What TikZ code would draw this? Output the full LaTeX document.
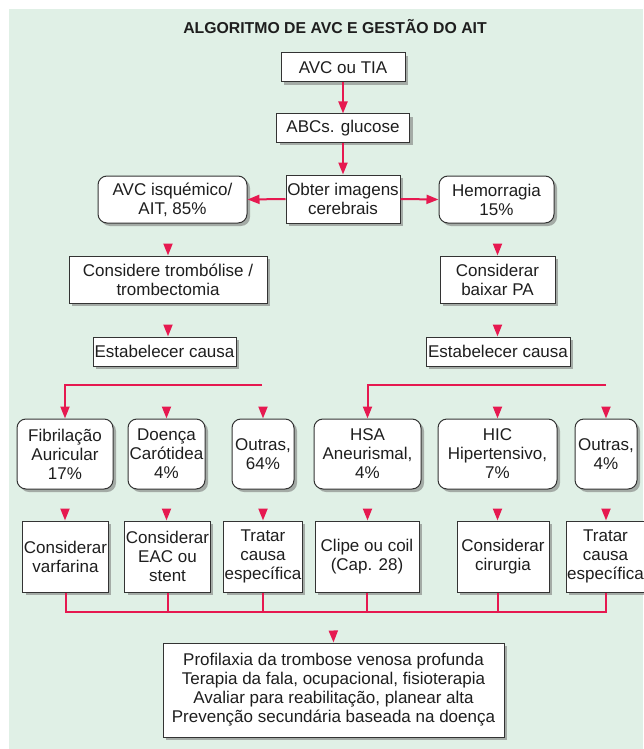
\documentclass[tikz,border=0pt]{standalone}
\usepackage{fontspec}
\setmainfont{Liberation Sans}
\usepackage{tikz}
\usetikzlibrary{arrows.meta, shadows, calc}
\definecolor{mint}{RGB}{224,240,230}
\definecolor{flowred}{RGB}{230,25,80}
\definecolor{inktext}{RGB}{30,30,30}

\begin{document}
\begin{tikzpicture}[x=1pt, y=-1pt,
  box/.style={draw=black!80, fill=white, line width=1pt, text=inktext,
    font=\fontsize{17}{19}\selectfont, align=center, inner sep=1pt,
    drop shadow={shadow xshift=3pt, shadow yshift=-3pt, fill=black!55, opacity=0.55}},
  rbox/.style={box, rounded corners=9pt},
  link/.style={draw=flowred, line width=2pt, -{Triangle[length=12pt,width=9pt]}},
  tiponly/.style={link, shorten <=#1},
  wire/.style={draw=flowred, line width=2pt}
]

  % Page and background
  \useasboundingbox (0,0) rectangle (643,749);
  \fill[mint] (9,9) rectangle (643,749);
  \node[font=\bfseries\fontsize{15.8}{18}\selectfont, text=inktext] (title) at (335,27) {ALGORITMO DE AVC E GESTÃO DO AIT};

  % Top of the chart
  \node[box, minimum width=124pt, minimum height=29pt] (tia) at (343,67.5) {AVC ou TIA};
  \node[box, minimum width=133pt, minimum height=28pt] (abc) at (343,128) {ABCs. glucose};
  \node[box, minimum width=114pt, minimum height=48pt] (img) at (343,199) {Obter imagens\\cerebrais};
  \node[rbox, minimum width=149pt, minimum height=47pt] (isq) at (172.5,199.5) {AVC isquémico/\\AIT, 85\%};
  \node[rbox, minimum width=115pt, minimum height=47pt] (hem) at (496.5,199.5) {Hemorragia\\15\%};

  % Ischaemic and haemorrhagic branches
  \node[box, minimum width=198pt, minimum height=47pt] (trombo) at (168,279.5) {Considere trombólise /\\trombectomia};
  \node[box, minimum width=115pt, minimum height=47pt] (pa) at (497.5,279.5) {Considerar\\baixar PA};
  \node[box, minimum width=143pt, minimum height=29pt] (causaL) at (164.5,351.5) {Estabelecer causa};
  \node[box, minimum width=144pt, minimum height=29pt] (causaR) at (498,351.5) {Estabelecer causa};

  % Causes
  \node[rbox, minimum width=96pt, minimum height=70pt] (fa) at (65,454) {Fibrilação\\Auricular\\17\%};
  \node[rbox, minimum width=77pt, minimum height=70pt] (car) at (166.5,454) {Doença\\Carótidea\\4\%};
  \node[rbox, minimum width=62pt, minimum height=70pt] (out1) at (263,454) {Outras,\\64\%};
  \node[rbox, minimum width=107pt, minimum height=70pt] (hsa) at (367.5,454) {HSA\\Aneurismal,\\4\%};
  \node[rbox, minimum width=119pt, minimum height=70pt] (hic) at (497.5,454) {HIC\\Hipertensivo,\\7\%};
  \node[rbox, minimum width=62pt, minimum height=70pt] (out2) at (606,454) {Outras,\\4\%};

  % Treatments
  \node[box, minimum width=85pt, minimum height=71pt] (varf) at (65.5,556.5) {Considerar\\varfarina};
  \node[box, minimum width=83pt, minimum height=71pt] (eac) at (167.5,556.5) {Considerar\\EAC ou\\stent};
  \node[box, minimum width=72pt, minimum height=71pt] (trat1) at (263,556.5) {Tratar\\causa\\específica};
  \node[box, minimum width=104pt, minimum height=71pt] (clip) at (367,556.5) {Clipe ou coil\\(Cap. 28)};
  \node[box, minimum width=92pt, minimum height=71pt] (cir) at (503,556.5) {Considerar\\cirurgia};
  \node[box, minimum width=73pt, minimum height=71pt] (trat2) at (605.5,556.5) {Tratar\\causa\\específica};

  % Common measures
  \node[box, minimum width=341pt, minimum height=94pt] (final) at (333.5,690) {Profilaxia da trombose venosa profunda\\Terapia da fala, ocupacional, fisioterapia\\Avaliar para reabilitação, planear alta\\Prevenção secundária baseada na doença};

  % Connectors
  \draw[link] (tia) -- (abc);
  \draw[link] (abc) -- (img);
  \draw[link] (img.west) -- (isq.east);
  \draw[link] (img.east) -- (hem.west);
  \draw[tiponly=21pt] (trombo.north |- isq.south) -- (trombo.north);
  \draw[tiponly=21pt] (pa.north |- hem.south) -- (pa.north);
  \draw[tiponly=22pt] (trombo.south) -- (trombo.south |- causaL.north);
  \draw[tiponly=22pt] (pa.south) -- (pa.south |- causaR.north);

  \coordinate (splitL) at (262,385);
  \coordinate (splitR) at (606,385);
  \draw[link] (splitL) -| (fa.north);
  \draw[link] (splitR) -| (hsa.north);
  \foreach \n in {car, out1, hic, out2}
    \draw[tiponly=22pt] (\n.north |- splitL) -- (\n.north);

  \foreach \a/\b in {fa/varf, car/eac, out1/trat1, hsa/clip, hic/cir, out2/trat2}
    \draw[tiponly=20pt] (\a.south) -- (\a.south |- \b.north);

  \coordinate (merge) at (333,612);
  \draw[wire] (varf.south) -- (varf.south |- merge) -- (trat2.south |- merge) -- (trat2.south);
  \foreach \n in {eac, trat1, clip}
    \draw[wire] (\n.south) -- (\n.south |- merge);
  \draw[wire] (hic.south |- cir.south) -- (hic.south |- merge);
  \draw[tiponly=19pt] (merge) -- (final.north);

\end{tikzpicture}
\end{document}
